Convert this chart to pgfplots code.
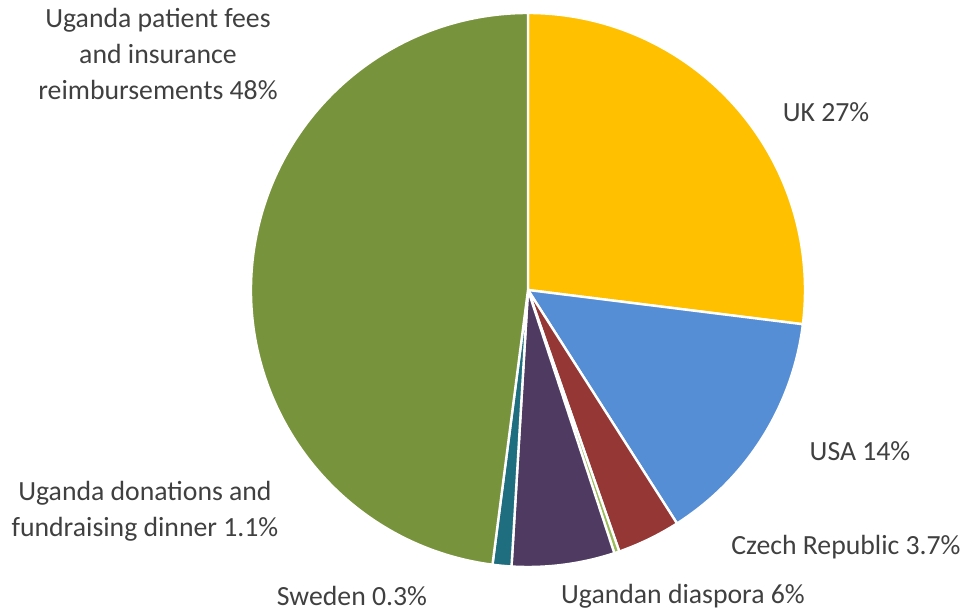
\documentclass[border=0pt]{standalone}
\usepackage{pgfplots}
\usepackage{pgfplotstable}
\pgfplotsset{compat=1.18}
\usepackage{fontspec}
\setmainfont{Carlito}

\definecolor{cUK}{HTML}{FFC000}
\definecolor{cUSA}{HTML}{558ED5}
\definecolor{cCZ}{HTML}{953735}
\definecolor{cSE}{HTML}{9BBB59}
\definecolor{cDI}{HTML}{4F3B62}
\definecolor{cDO}{HTML}{1F6E80}
\definecolor{cFE}{HTML}{77933C}
\definecolor{txt}{HTML}{404040}

% slices, clockwise from the top
\pgfplotstableread{
name value col
UK 27 cUK
USA 14 cUSA
Czech 3.7 cCZ
Sweden 0.3 cSE
Diaspora 6 cDI
Donations 1.1 cDO
Fees 48 cFE
}\piedata

\begin{document}
\begin{tikzpicture}
\begin{axis}[
  scale only axis,
  width=723.75pt, height=460.5pt,
  xmin=0, xmax=965, ymin=0, ymax=614,
  hide axis,
  clip=false,
]
\pgfplotstablegetrowsof{\piedata}
\pgfmathtruncatemacro{\nrows}{\pgfplotsretval-1}
\def\total{100.1}
\def\cum{0}
\pgfplotsforeachungrouped \i in {0,...,\nrows}{%
  \pgfplotstablegetelem{\i}{value}\of{\piedata}\let\v\pgfplotsretval
  \pgfplotstablegetelem{\i}{col}\of{\piedata}\let\c\pgfplotsretval
  \pgfmathsetmacro{\aS}{90-(\cum/\total)*360}%
  \pgfmathsetmacro{\cum}{\cum+\v}%
  \pgfmathsetmacro{\aE}{90-(\cum/\total)*360}%
  \edef\temp{\noexpand\filldraw[fill=\c, draw=white, line width=1.8pt, line join=round]
    (axis cs:528,324) -- ++(\aS:207.75pt) arc[start angle=\aS, end angle=\aE, radius=207.75pt] -- cycle;}%
  \temp
}
\begin{scope}[every node/.style={text=txt, font=\fontsize{20.8}{27}\selectfont, align=center}]
\node at (axis cs:158,560) {Uganda patient fees\\and insurance\\reimbursements 48\%};
\node at (axis cs:826,502) {UK 27\%};
\node at (axis cs:860,163) {USA 14\%};
\node at (axis cs:846,67) {Czech Republic 3.7\%};
\node at (axis cs:683,18) {Ugandan diaspora 6\%};
\node at (axis cs:352,18) {Sweden 0.3\%};
\node at (axis cs:145,103) {Uganda donations and\\fundraising dinner 1.1\%};
\end{scope}
\end{axis}
\pgfresetboundingbox
\path[use as bounding box] (current axis.south west) rectangle (current axis.north east);
\end{tikzpicture}
\end{document}
